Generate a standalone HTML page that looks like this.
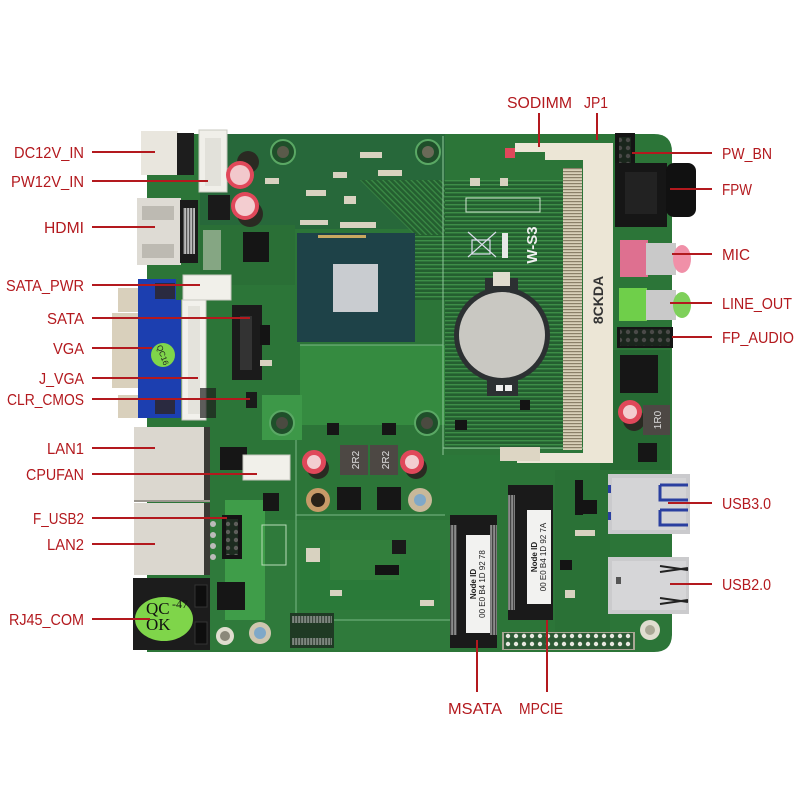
<!DOCTYPE html>
<html><head><meta charset="utf-8"><style>
html,body{margin:0;padding:0;background:#fff;}
svg{display:block;}
.l{font-family:"Liberation Sans",sans-serif;font-size:16px;fill:#b3191e;}
.ln{stroke:#b3191e;stroke-width:2;fill:none;}
</style></head><body>
<svg width="800" height="800" viewBox="0 0 800 800" xmlns="http://www.w3.org/2000/svg">
<defs>
<pattern id="tr" width="4" height="4" patternUnits="userSpaceOnUse">
<rect width="4" height="4" fill="#245f30"/><rect width="4" height="1.4" fill="#3d8e47"/>
</pattern>
<pattern id="trd" width="4" height="4" patternUnits="userSpaceOnUse" patternTransform="rotate(45)">
<rect width="4" height="4" fill="#245f30"/><rect width="4" height="1.3" fill="#3a8a45"/>
</pattern>
<pattern id="pins" width="2.5" height="3" patternUnits="userSpaceOnUse">
<rect width="2.5" height="3" fill="#d8d0b8"/><rect width="2.5" height="1.2" fill="#8a8068"/>
</pattern>
<pattern id="pinv" width="3" height="2.5" patternUnits="userSpaceOnUse">
<rect width="3" height="2.5" fill="#bbb"/><rect width="1.2" height="2.5" fill="#555"/>
</pattern>
<pattern id="hdr" width="8" height="8" patternUnits="userSpaceOnUse">
<rect width="8" height="8" fill="#2d5a35"/><circle cx="4" cy="4" r="2.2" fill="#e8e8e0"/>
</pattern>
</defs>
<rect width="800" height="800" fill="#fff"/>

<!-- board -->
<path d="M147 134 H654 Q672 134 672 152 V634 Q672 652 654 652 H147 Z" fill="#2c7538"/>
<rect x="200" y="134" width="245" height="95" fill="#27683a"/>
<rect x="415" y="180" width="150" height="120" fill="url(#tr)"/>
<rect x="445" y="300" width="118" height="150" fill="url(#tr)"/>
<polygon points="360,180 445,180 445,235 415,235" fill="url(#trd)"/>
<rect x="200" y="225" width="95" height="60" fill="#2a6f36"/>
<rect x="300" y="345" width="145" height="80" fill="#358b40"/>
<rect x="262" y="395" width="40" height="45" fill="#3d9848"/>
<rect x="210" y="520" width="240" height="130" fill="#2f7a3b"/>
<rect x="225" y="500" width="40" height="120" fill="#3f9d49"/>
<rect x="300" y="560" width="140" height="50" fill="#2a7a39"/>
<rect x="330" y="540" width="70" height="40" fill="#327f3c"/>
<rect x="555" y="470" width="55" height="175" fill="#2a7136"/>
<rect x="600" y="350" width="70" height="120" fill="#266a33"/>
<rect x="440" y="455" width="60" height="60" fill="#2b7839"/>
<line x1="443" y1="136" x2="443" y2="455" stroke="#8fc79a" stroke-width="1"/>
<line x1="443" y1="448" x2="612" y2="448" stroke="#8fc79a" stroke-width="1"/>
<line x1="300" y1="345" x2="443" y2="345" stroke="#7ab886" stroke-width="1"/>
<line x1="296" y1="440" x2="296" y2="620" stroke="#7ab886" stroke-width="1"/>
<line x1="296" y1="515" x2="445" y2="515" stroke="#7ab886" stroke-width="1"/>
<line x1="290" y1="620" x2="450" y2="620" stroke="#7ab886" stroke-width="1"/>

<!-- mounting holes -->
<circle cx="283" cy="152" r="12" fill="#1f4f2a" stroke="#5aa864" stroke-width="2"/><circle cx="283" cy="152" r="6" fill="#5a5a4a"/>
<circle cx="428" cy="152" r="12" fill="#1f4f2a" stroke="#5aa864" stroke-width="2"/><circle cx="428" cy="152" r="6" fill="#6a6a58"/>
<circle cx="427" cy="423" r="12" fill="#1f4f2a" stroke="#5aa864" stroke-width="2"/><circle cx="427" cy="423" r="6" fill="#4a4a40"/>
<circle cx="282" cy="423" r="12" fill="#1f4f2a" stroke="#5aa864" stroke-width="2"/><circle cx="282" cy="423" r="6" fill="#4a4a40"/>
<circle cx="318" cy="500" r="12" fill="#c79a68"/><circle cx="318" cy="500" r="7" fill="#2a2218"/>
<circle cx="420" cy="500" r="12" fill="#c8b89a"/><circle cx="420" cy="500" r="6" fill="#7fa8c8"/>
<circle cx="260" cy="633" r="11" fill="#cfc6b0"/><circle cx="260" cy="633" r="6" fill="#7fa8c8"/>
<circle cx="225" cy="636" r="9" fill="#e0ddd0"/><circle cx="225" cy="636" r="5" fill="#8a887a"/>
<circle cx="650" cy="630" r="10" fill="#e0ddd0"/><circle cx="650" cy="630" r="5" fill="#aaa896"/>

<!-- CPU -->
<rect x="297" y="233" width="118" height="109" fill="#1e4248"/>
<rect x="333" y="264" width="45" height="48" fill="#c9ccd0"/>
<rect x="318" y="235" width="48" height="3" fill="#c9a860"/>

<!-- left top connectors -->
<rect x="141" y="131" width="37" height="44" fill="#e9e6de"/>
<rect x="177" y="133" width="17" height="42" fill="#1d1d1d"/>
<rect x="199" y="130" width="28" height="62" fill="#f0efe9" stroke="#c8c8c0"/>
<rect x="205" y="138" width="16" height="48" fill="#e2e1da"/>
<circle cx="248" cy="162" r="11" fill="#2a2a22"/>
<circle cx="240" cy="175" r="14" fill="#e0485a"/><circle cx="240" cy="175" r="10" fill="#f2c8cc"/>
<circle cx="250" cy="214" r="13" fill="#2a2a22"/>
<circle cx="245" cy="206" r="14" fill="#e0485a"/><circle cx="245" cy="206" r="10" fill="#f3cdd0"/>
<rect x="137" y="198" width="44" height="67" fill="#dedbd4"/>
<rect x="142" y="206" width="32" height="14" fill="#bdbab2"/><rect x="142" y="244" width="32" height="14" fill="#bdbab2"/>
<rect x="180" y="200" width="18" height="63" fill="#1a1a1a"/>
<rect x="183" y="208" width="12" height="46" fill="url(#pinv)"/>
<rect x="208" y="195" width="22" height="25" fill="#1a1a1a"/>
<rect x="243" y="232" width="26" height="30" fill="#151515"/>
<rect x="203" y="230" width="18" height="40" fill="#e0ddd0" opacity="0.5"/>
<rect x="183" y="275" width="48" height="25" fill="#f1f0ea" stroke="#c8c8c0"/>
<!-- VGA -->
<rect x="112" y="313" width="27" height="75" fill="#d9d0bc"/>
<rect x="118" y="288" width="22" height="24" fill="#d9d0bc"/>
<rect x="118" y="395" width="22" height="23" fill="#d9d0bc"/>
<path d="M138 279 H176 V300 H181 V418 H138 Z" fill="#1c3fb0"/>
<rect x="155" y="283" width="20" height="16" fill="#2a2a40"/>
<rect x="155" y="398" width="20" height="16" fill="#2a2a40"/>
<circle cx="163" cy="355" r="12" fill="#7fd54a"/>
<text x="163" y="355" transform="rotate(70 163 355)" font-family="Liberation Sans,sans-serif" font-size="8" fill="#222" text-anchor="middle" dy="3">QC16</text>
<rect x="182" y="300" width="24" height="120" fill="#f2f1ec" stroke="#c8c8c0"/>
<rect x="188" y="306" width="12" height="108" fill="#e4e3dc"/>
<rect x="232" y="305" width="30" height="75" fill="#1b1b1b"/>
<rect x="240" y="316" width="12" height="54" fill="#333"/>
<rect x="246" y="392" width="11" height="16" fill="#1a1a1a"/>
<rect x="200" y="388" width="16" height="30" fill="#1d1d1d" opacity="0.7"/>

<!-- LAN -->
<rect x="134" y="427" width="72" height="73" fill="#dbd7cf"/>
<rect x="204" y="427" width="6" height="73" fill="#3a3a35"/>
<rect x="134" y="503" width="72" height="72" fill="#dbd7cf"/>
<rect x="204" y="503" width="6" height="72" fill="#3a3a35"/>
<line x1="134" y1="501" x2="210" y2="501" stroke="#9a968e" stroke-width="2"/>
<rect x="133" y="578" width="77" height="72" fill="#1c1c1c"/>
<rect x="195" y="585" width="12" height="22" fill="#0e0e0e" stroke="#333"/>
<rect x="195" y="622" width="12" height="22" fill="#0e0e0e" stroke="#333"/>
<ellipse cx="164" cy="619" rx="29" ry="22" fill="#7fd54a"/>
<text x="146" y="614" font-family="Liberation Serif,serif" font-size="17" fill="#111">QC</text>
<text x="172" y="608" font-family="Liberation Serif,serif" font-size="12" fill="#111">-47</text>
<text x="146" y="630" font-family="Liberation Serif,serif" font-size="17" fill="#111">OK</text>
<rect x="220" y="447" width="27" height="23" fill="#161616"/>
<rect x="263" y="493" width="16" height="18" fill="#161616"/>
<rect x="217" y="582" width="28" height="28" fill="#161616"/>
<rect x="222" y="515" width="20" height="44" fill="#141414"/>
<rect x="226" y="519" width="12" height="36" fill="url(#hdr)" opacity="0.35"/>
<circle cx="213" cy="524" r="3" fill="#bbb"/><circle cx="213" cy="535" r="3" fill="#bbb"/><circle cx="213" cy="546" r="3" fill="#bbb"/><circle cx="213" cy="557" r="3" fill="#bbb"/>
<rect x="243" y="455" width="47" height="25" fill="#f1f0ea" stroke="#c8c8c0"/>

<!-- power area -->
<rect x="340" y="445" width="28" height="30" fill="#4d4844"/>
<rect x="370" y="445" width="28" height="30" fill="#4d4844"/>
<text x="354" y="465" font-family="Liberation Sans,sans-serif" font-size="10" fill="#ddd" text-anchor="middle" transform="rotate(-90 354 460)">2R2</text>
<text x="384" y="465" font-family="Liberation Sans,sans-serif" font-size="10" fill="#ddd" text-anchor="middle" transform="rotate(-90 384 460)">2R2</text>
<circle cx="318" cy="468" r="11" fill="#2a2a22"/><circle cx="314" cy="462" r="12" fill="#e0485a"/><circle cx="314" cy="462" r="7" fill="#f3cdd0"/>
<circle cx="416" cy="468" r="11" fill="#2a2a22"/><circle cx="412" cy="462" r="12" fill="#e0485a"/><circle cx="412" cy="462" r="7" fill="#f3cdd0"/>
<rect x="337" y="487" width="24" height="23" fill="#161616"/>
<rect x="377" y="487" width="24" height="23" fill="#161616"/>
<rect x="327" y="423" width="12" height="12" fill="#161616"/>
<rect x="382" y="423" width="14" height="12" fill="#161616"/>
<rect x="392" y="540" width="14" height="14" fill="#1a1a1a"/>
<rect x="306" y="548" width="14" height="14" fill="#d8d2c0"/>
<rect x="290" y="613" width="44" height="35" fill="#1f3a24"/>
<rect x="292" y="616" width="40" height="7" fill="url(#pinv)" opacity="0.6"/>
<rect x="292" y="638" width="40" height="7" fill="url(#pinv)" opacity="0.6"/>
<rect x="262" y="525" width="24" height="40" fill="none" stroke="#b8dcb8" stroke-width="1"/>

<!-- SODIMM -->
<path d="M515 143 H613 V463 H517 V453 H583 V160 H545 V152 H515 Z" fill="#ece6d6"/>
<rect x="563" y="168" width="19" height="282" fill="url(#pins)"/>
<rect x="500" y="447" width="40" height="14" fill="#ddd6c4"/>
<text x="598" y="300" transform="rotate(-90 598 300)" font-family="Liberation Sans,sans-serif" font-size="14" font-weight="bold" fill="#333" text-anchor="middle" dy="5">8CKDA</text>
<rect x="505" y="148" width="10" height="10" fill="#e0485a"/>
<rect x="466" y="198" width="74" height="14" fill="none" stroke="#cfe6cf" stroke-width="1"/>
<g stroke="#dde" stroke-width="1.2" fill="none"><line x1="468" y1="232" x2="496" y2="257"/><line x1="496" y1="232" x2="468" y2="257"/><rect x="472" y="240" width="18" height="14"/></g>
<rect x="502" y="233" width="6" height="25" fill="#e8e8e8"/>
<text x="532" y="245" transform="rotate(-90 532 245)" font-family="Liberation Sans,sans-serif" font-size="15" font-weight="bold" fill="#f0f0f0" text-anchor="middle" dy="5">W-S3</text>
<rect x="485" y="278" width="33" height="26" fill="#2c3032"/>
<rect x="493" y="272" width="17" height="14" fill="#e0dccf"/>
<circle cx="502" cy="335" r="48" fill="#2c3032"/>
<rect x="487" y="370" width="31" height="26" fill="#2c3032"/>
<rect x="496" y="385" width="7" height="6" fill="#eee"/><rect x="505" y="385" width="7" height="6" fill="#eee"/>
<circle cx="502" cy="335" r="43" fill="#c9c8c2"/>

<!-- MSATA -->
<rect x="450" y="515" width="47" height="133" fill="#1a1a1a"/>
<rect x="450" y="525" width="7" height="110" fill="url(#pinv)" opacity="0.7"/>
<rect x="490" y="525" width="7" height="110" fill="url(#pinv)" opacity="0.7"/>
<rect x="466" y="535" width="24" height="98" fill="#f2f2f0"/>
<text x="478" y="584" transform="rotate(-90 478 584)" font-family="Liberation Sans,sans-serif" font-size="8" fill="#222" text-anchor="middle" dy="-2"><tspan x="478" font-weight="bold">Node ID</tspan><tspan x="478" dy="9">00 E0 B4 1D 92 78</tspan></text>
<!-- MPCIE -->
<rect x="508" y="485" width="45" height="135" fill="#1a1a1a"/>
<rect x="508" y="495" width="7" height="115" fill="url(#pinv)" opacity="0.7"/>
<rect x="527" y="510" width="24" height="94" fill="#f2f2f0"/>
<text x="539" y="557" transform="rotate(-90 539 557)" font-family="Liberation Sans,sans-serif" font-size="8" fill="#222" text-anchor="middle" dy="-2"><tspan x="539" font-weight="bold">Node ID</tspan><tspan x="539" dy="9">00 E0 B4 1D 92 7A</tspan></text>
<rect x="502" y="632" width="133" height="18" fill="#a9a795"/>
<rect x="504" y="633" width="129" height="16" fill="url(#hdr)"/>

<!-- right side -->
<rect x="615" y="133" width="20" height="35" fill="#141414"/>
<rect x="619" y="137" width="12" height="28" fill="url(#hdr)" opacity="0.25"/>
<rect x="615" y="163" width="52" height="64" fill="#161616"/>
<rect x="625" y="172" width="32" height="42" fill="#222"/>
<rect x="666" y="163" width="30" height="54" rx="8" fill="#111"/>
<rect x="620" y="240" width="28" height="37" fill="#de7090"/>
<rect x="646" y="243" width="30" height="32" fill="#c9c9c9"/>
<ellipse cx="682" cy="259" rx="9" ry="14" fill="#f090a8"/>
<rect x="619" y="288" width="28" height="33" fill="#6fcf4a"/>
<rect x="646" y="290" width="30" height="30" fill="#c9c9c9"/>
<ellipse cx="682" cy="305" rx="9" ry="13" fill="#7ed05a"/>
<rect x="617" y="327" width="56" height="21" fill="#151515"/>
<rect x="620" y="329" width="50" height="17" fill="url(#hdr)" opacity="0.25"/>
<rect x="620" y="355" width="38" height="38" fill="#161616"/>
<circle cx="634" cy="420" r="11" fill="#2a2a22"/><circle cx="630" cy="412" r="12" fill="#e0485a"/><circle cx="630" cy="412" r="7" fill="#f3cdd0"/>
<rect x="643" y="405" width="27" height="30" fill="#4d4844"/>
<text x="657" y="420" transform="rotate(-90 657 420)" font-family="Liberation Sans,sans-serif" font-size="10" fill="#ddd" text-anchor="middle" dy="4">1R0</text>
<rect x="638" y="443" width="19" height="19" fill="#161616"/>
<rect x="608" y="474" width="82" height="60" fill="#cacacd"/>
<rect x="612" y="478" width="74" height="52" fill="#d4d4d6"/>
<path d="M660 485 H688 M660 485 V500 H688 M660 510 H688 M660 510 V525 H688" stroke="#2a3fa0" stroke-width="3" fill="none"/>
<rect x="608" y="485" width="3" height="8" fill="#2a3fa0"/><rect x="608" y="512" width="3" height="8" fill="#2a3fa0"/>
<rect x="608" y="557" width="81" height="57" fill="#cbcbcd"/>
<rect x="612" y="561" width="74" height="49" fill="#d6d6d8"/>
<path d="M660 566 L688 570 M660 572 L688 568 M660 598 L688 602 M660 604 L688 600" stroke="#222" stroke-width="2" fill="none"/>
<rect x="616" y="577" width="5" height="7" fill="#555"/>

<g fill="#d8d2c0">
<rect x="265" y="178" width="14" height="6"/><rect x="306" y="190" width="20" height="6"/><rect x="333" y="172" width="14" height="6"/>
<rect x="360" y="152" width="22" height="6"/><rect x="378" y="170" width="24" height="6"/><rect x="344" y="196" width="12" height="8"/>
<rect x="300" y="220" width="28" height="5"/><rect x="340" y="222" width="36" height="6"/><rect x="260" y="360" width="12" height="6"/>
<rect x="470" y="178" width="10" height="8"/><rect x="500" y="178" width="8" height="8"/><rect x="565" y="590" width="10" height="8"/>
<rect x="575" y="530" width="20" height="6"/><rect x="330" y="590" width="12" height="6"/><rect x="420" y="600" width="14" height="6"/>
</g>
<g fill="#141414">
<rect x="575" y="480" width="8" height="35"/><rect x="583" y="500" width="14" height="14"/><rect x="560" y="560" width="12" height="10"/>
<rect x="455" y="420" width="12" height="10"/><rect x="520" y="400" width="10" height="10"/><rect x="375" y="565" width="24" height="10"/>
<rect x="260" y="325" width="10" height="20"/>
</g>

<!-- leader lines -->
<g class="ln">
<line x1="92" y1="152" x2="155" y2="152"/>
<line x1="92" y1="181" x2="208" y2="181"/>
<line x1="92" y1="227" x2="155" y2="227"/>
<line x1="92" y1="285" x2="200" y2="285"/>
<line x1="92" y1="318" x2="250" y2="318"/>
<line x1="92" y1="348" x2="152" y2="348"/>
<line x1="92" y1="378" x2="198" y2="378"/>
<line x1="92" y1="399" x2="250" y2="399"/>
<line x1="92" y1="448" x2="155" y2="448"/>
<line x1="92" y1="474" x2="257" y2="474"/>
<line x1="92" y1="518" x2="227" y2="518"/>
<line x1="92" y1="544" x2="155" y2="544"/>
<line x1="92" y1="619" x2="150" y2="619"/>
<line x1="632" y1="153" x2="712" y2="153"/>
<line x1="670" y1="189" x2="712" y2="189"/>
<line x1="672" y1="254" x2="712" y2="254"/>
<line x1="670" y1="303" x2="712" y2="303"/>
<line x1="672" y1="337" x2="712" y2="337"/>
<line x1="668" y1="503" x2="712" y2="503"/>
<line x1="670" y1="584" x2="712" y2="584"/>
<line x1="539" y1="113" x2="539" y2="147"/>
<line x1="597" y1="113" x2="597" y2="140"/>
<line x1="477" y1="640" x2="477" y2="692"/>
<line x1="547" y1="620" x2="547" y2="692"/>
</g>

<g class="l" text-anchor="end">
<text x="84" y="158" textLength="70" lengthAdjust="spacingAndGlyphs">DC12V_IN</text>
<text x="84" y="187" textLength="73" lengthAdjust="spacingAndGlyphs">PW12V_IN</text>
<text x="84" y="233" textLength="40" lengthAdjust="spacingAndGlyphs">HDMI</text>
<text x="84" y="291" textLength="78" lengthAdjust="spacingAndGlyphs">SATA_PWR</text>
<text x="84" y="324" textLength="37" lengthAdjust="spacingAndGlyphs">SATA</text>
<text x="84" y="354" textLength="31" lengthAdjust="spacingAndGlyphs">VGA</text>
<text x="84" y="384" textLength="45" lengthAdjust="spacingAndGlyphs">J_VGA</text>
<text x="84" y="405" textLength="77" lengthAdjust="spacingAndGlyphs">CLR_CMOS</text>
<text x="84" y="454" textLength="37" lengthAdjust="spacingAndGlyphs">LAN1</text>
<text x="84" y="480" textLength="58" lengthAdjust="spacingAndGlyphs">CPUFAN</text>
<text x="84" y="524" textLength="51" lengthAdjust="spacingAndGlyphs">F_USB2</text>
<text x="84" y="550" textLength="37" lengthAdjust="spacingAndGlyphs">LAN2</text>
<text x="84" y="625" textLength="75" lengthAdjust="spacingAndGlyphs">RJ45_COM</text>
</g>
<g class="l">
<text x="722" y="159" textLength="50" lengthAdjust="spacingAndGlyphs">PW_BN</text>
<text x="722" y="195" textLength="30" lengthAdjust="spacingAndGlyphs">FPW</text>
<text x="722" y="260" textLength="28" lengthAdjust="spacingAndGlyphs">MIC</text>
<text x="722" y="309" textLength="70" lengthAdjust="spacingAndGlyphs">LINE_OUT</text>
<text x="722" y="343" textLength="72" lengthAdjust="spacingAndGlyphs">FP_AUDIO</text>
<text x="722" y="509" textLength="49" lengthAdjust="spacingAndGlyphs">USB3.0</text>
<text x="722" y="590" textLength="49" lengthAdjust="spacingAndGlyphs">USB2.0</text>
<text x="507" y="108" textLength="65" lengthAdjust="spacingAndGlyphs">SODIMM</text>
<text x="584" y="108" textLength="24" lengthAdjust="spacingAndGlyphs">JP1</text>
<text x="448" y="714" textLength="54" lengthAdjust="spacingAndGlyphs">MSATA</text>
<text x="519" y="714" textLength="44" lengthAdjust="spacingAndGlyphs">MPCIE</text>
</g>
</svg>
</body></html>
